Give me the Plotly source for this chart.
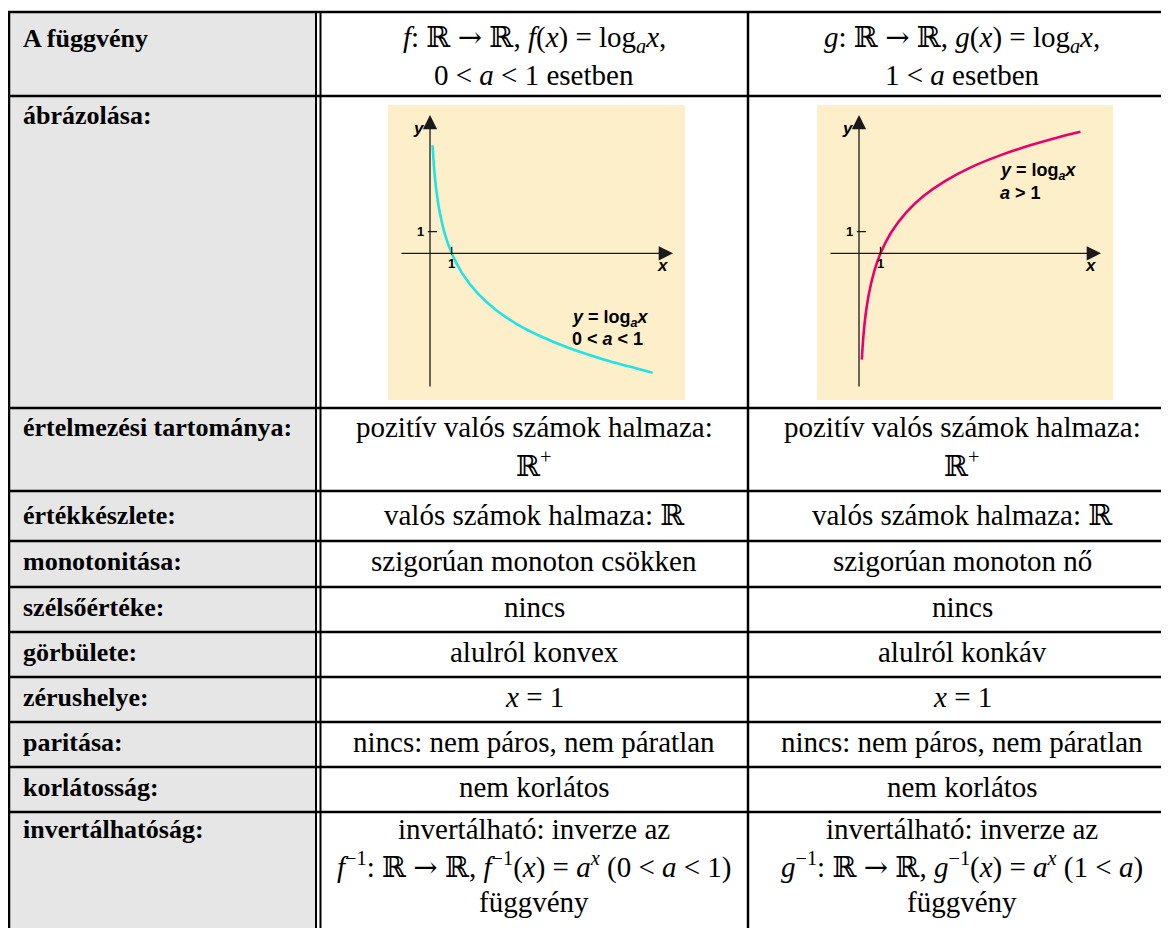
import plotly.graph_objects as go

# the page has an 8px body margin, so the figure is placed at (8, 8) in the window;
# all positions below are window pixels and the main axis range absorbs the offset
OFF = 8
WIN_W, WIN_H = 1169, 928
W, H = WIN_W - OFF, WIN_H - OFF

ARROW = '<span style="font-family:DejaVu Serif">→</span>'

# table content
row_labels = ["A függvény", "ábrázolása:", "értelmezési tartománya:", "értékkészlete:",
              "monotonitása:", "szélsőértéke:", "görbülete:", "zérushelye:",
              "paritása:", "korlátosság:", "invertálhatóság:"]

f_cells = [
    "<i>f</i>: ℝ " + ARROW + " ℝ, <i>f</i>(<i>x</i>) = log<sub><i>a</i></sub><i>x</i>,<br>0 &lt; <i>a</i> &lt; 1 esetben",
    "",
    "pozitív valós számok halmaza:<br>ℝ<sup>+</sup>",
    "valós számok halmaza: ℝ",
    "szigorúan monoton csökken",
    "nincs",
    "alulról konvex",
    "<i>x</i> = 1",
    "nincs: nem páros, nem páratlan",
    "nem korlátos",
    "invertálható: inverze az<br><i>f</i><sup>−1</sup>: ℝ " + ARROW + " ℝ, <i>f</i><sup>−1</sup>(<i>x</i>) = <i>a<sup>x</sup></i> (0 &lt; <i>a</i> &lt; 1)<br>függvény",
]

g_cells = [
    "<i>g</i>: ℝ " + ARROW + " ℝ, <i>g</i>(<i>x</i>) = log<sub><i>a</i></sub><i>x</i>,<br>1 &lt; <i>a</i> esetben",
    "",
    "pozitív valós számok halmaza:<br>ℝ<sup>+</sup>",
    "valós számok halmaza: ℝ",
    "szigorúan monoton nő",
    "nincs",
    "alulról konkáv",
    "<i>x</i> = 1",
    "nincs: nem páros, nem páratlan",
    "nem korlátos",
    "invertálható: inverze az<br><i>g</i><sup>−1</sup>: ℝ " + ARROW + " ℝ, <i>g</i><sup>−1</sup>(<i>x</i>) = <i>a<sup>x</sup></i> (1 &lt; <i>a</i>)<br>függvény",
]

# curve points
dec_x = [0.12, 0.2, 0.3, 0.45, 0.7, 1.0, 1.5, 2.2, 3.0, 4.0, 5.2, 6.5, 8.0, 9.2, 10.26]
dec_y = [4.98, 3.78, 2.83, 1.88, 0.84, 0.0, -0.95, -1.85, -2.58, -3.26, -3.87, -4.40, -4.89, -5.22, -5.5]

inc_x = [0.13, 0.2, 0.3, 0.45, 0.7, 1.0, 1.5, 2.2, 3.0, 4.0, 5.2, 6.5, 8.0, 9.2, 10.3]
inc_y = [-4.9, -3.86, -2.89, -1.92, -0.86, 0.0, 0.97, 1.89, 2.64, 3.33, 3.96, 4.49, 4.99, 5.33, 5.6]

# geometry (window pixels)
row_edges = [12, 96, 408, 491, 541, 587, 632, 677, 722, 767, 812, 950]
first_off = [26, 19, 19, 24, 20, 20, 20, 20, 20, 20, 17]
x_left, x_dbl1, x_dbl2, x_mid = 9, 316, 320.5, 748
col_centers = [534, 962]
line_pitch = 36.5

LABEL_FONT = dict(family="Liberation Serif, Times New Roman, serif", size=26, color="black")
CELL_FONT = dict(family="Liberation Serif, Times New Roman, DejaVu Serif, serif", size=29, color="black")
SMALL_FONT = "Liberation Sans Narrow, Liberation Sans, Arial, sans-serif"

fig = go.Figure()

shapes = []
annotations = []

# grey first column
shapes.append(dict(type="rect", xref="x", yref="y", x0=x_left, x1=x_dbl1, y0=row_edges[0], y1=WIN_H + 20,
                   fillcolor="#e6e6e6", line_width=0, layer="below"))

# table lines
for y in row_edges[:-1]:
    shapes.append(dict(type="line", xref="x", yref="y", x0=x_left - 1, x1=WIN_W + 10, y0=y, y1=y,
                       line=dict(color="black", width=2.5)))
for x, w in [(x_left, 2.5), (x_dbl1, 2), (x_dbl2, 2), (x_mid, 2.5)]:
    shapes.append(dict(type="line", xref="x", yref="y", x0=x, x1=x, y0=row_edges[0] - 1, y1=WIN_H + 20,
                       line=dict(color="black", width=w)))

# cell texts
for i, lab in enumerate(row_labels):
    top = row_edges[i] + first_off[i]
    annotations.append(dict(xref="x", yref="y", x=21, y=top, text="<b>" + lab + "</b>",
                            showarrow=False, xanchor="left", yanchor="middle", font=LABEL_FONT))
    for cx, cell in zip(col_centers, [f_cells[i], g_cells[i]]):
        if not cell:
            continue
        for k, line in enumerate(cell.split("<br>")):
            annotations.append(dict(xref="x", yref="y", x=cx, y=top + k * line_pitch,
                                    text=line, showarrow=False, xanchor="center", yanchor="middle",
                                    font=CELL_FONT))

# the two small graphs: panel box, origin, unit (window px)
panels = [
    dict(box=(388, 105, 685, 400), origin=(430, 253.3), unit=(21.7, 21.7), xa="x2", ya="y2",
         xs=dec_x, ys=dec_y, color="#1fe4e6",
         label=(6.45, -3.0, "<b><i>y</i> = log<sub><i>a</i></sub><i>x</i></b>", "<b>0 &lt; <i>a</i> &lt; 1</b>")),
    dict(box=(817, 105, 1113, 400), origin=(859, 253.3), unit=(21.5, 21.7), xa="x3", ya="y3",
         xs=inc_x, ys=inc_y, color="#e8006e",
         label=(6.45, 3.75, "<b><i>y</i> = log<sub><i>a</i></sub><i>x</i></b>", "<b><i>a</i> &gt; 1</b>")),
]

for p in panels:
    bx0, by0, bx1, by1 = p["box"]
    ox, oy = p["origin"]
    ux, uy = p["unit"]
    xr = [(bx0 - ox) / ux, (bx1 - ox) / ux]
    yr = [(oy - by1) / uy, (oy - by0) / uy]
    n = p["xa"][1:]
    fig.update_layout(**{
        "xaxis" + n: dict(domain=[(bx0 - OFF) / W, (bx1 - OFF) / W], range=xr, visible=False,
                          fixedrange=True, anchor=p["ya"]),
        "yaxis" + n: dict(domain=[1 - (by1 - OFF) / H, 1 - (by0 - OFF) / H], range=yr, visible=False,
                          fixedrange=True, anchor=p["xa"]),
    })
    shapes.append(dict(type="rect", xref=p["xa"] + " domain", yref=p["ya"] + " domain", x0=0, x1=1, y0=0, y1=1,
                       fillcolor="#fdefc9", line_width=0, layer="below"))
    # axes with arrows
    y_tail = (oy - 388) / uy
    y_tip = (oy - 115) / uy
    x_tail = (bx0 + 12 - ox) / ux
    x_tip = (bx1 - 12 - ox) / ux
    for (hx, hy, tx, ty) in [(0, y_tip, 0, y_tail), (x_tip, 0, x_tail, 0)]:
        annotations.append(dict(xref=p["xa"], yref=p["ya"], axref=p["xa"], ayref=p["ya"],
                                x=hx, y=hy, ax=tx, ay=ty, text="", showarrow=True,
                                arrowhead=2, arrowsize=2.2, arrowwidth=1.3, arrowcolor="#1a1a1a",
                                standoff=0, startstandoff=0))
    # unit ticks
    shapes.append(dict(type="line", xref=p["xa"], yref=p["ya"], x0=1, x1=1, y0=-0.05, y1=0.3,
                       line=dict(color="#1a1a1a", width=1.3)))
    shapes.append(dict(type="line", xref=p["xa"], yref=p["ya"], x0=-0.1, x1=0.32, y0=1, y1=1,
                       line=dict(color="#1a1a1a", width=1.3)))
    tick_font = dict(family=SMALL_FONT, size=13, color="black")
    annotations += [
        dict(xref=p["xa"], yref=p["ya"], x=1, y=-0.45, text="<b>1</b>", showarrow=False, font=tick_font),
        dict(xref=p["xa"], yref=p["ya"], x=-0.45, y=1, text="<b>1</b>", showarrow=False, font=tick_font),
        dict(xref=p["xa"], yref=p["ya"], x=x_tip - 0.45, y=-0.55, text="<b><i>x</i></b>", showarrow=False,
             font=dict(family=SMALL_FONT, size=17, color="black")),
        dict(xref=p["xa"], yref=p["ya"], x=-0.5, y=y_tip - 0.62, text="<b><i>y</i></b>", showarrow=False,
             font=dict(family=SMALL_FONT, size=17, color="black")),
    ]
    lx, ly, l1, l2 = p["label"]
    for k, t in enumerate([l1, l2]):
        annotations.append(dict(xref=p["xa"], yref=p["ya"], x=lx, y=ly - k * 0.95, text=t, showarrow=False,
                                xanchor="left", font=dict(family=SMALL_FONT, size=18, color="black")))
    fig.add_trace(go.Scatter(x=p["xs"], y=p["ys"], mode="lines",
                             line=dict(color=p["color"], width=2.6, shape="spline"),
                             xaxis=p["xa"], yaxis=p["ya"], hoverinfo="skip", showlegend=False))

fig.update_layout(
    width=W, height=H,
    margin=dict(l=0, r=0, t=0, b=0),
    paper_bgcolor="white", plot_bgcolor="rgba(0,0,0,0)",
    xaxis=dict(range=[OFF, WIN_W], visible=False, fixedrange=True, domain=[0, 1]),
    yaxis=dict(range=[WIN_H, OFF], visible=False, fixedrange=True, domain=[0, 1]),
    shapes=shapes, annotations=annotations, showlegend=False,
)

fig.write_html("out.html")
